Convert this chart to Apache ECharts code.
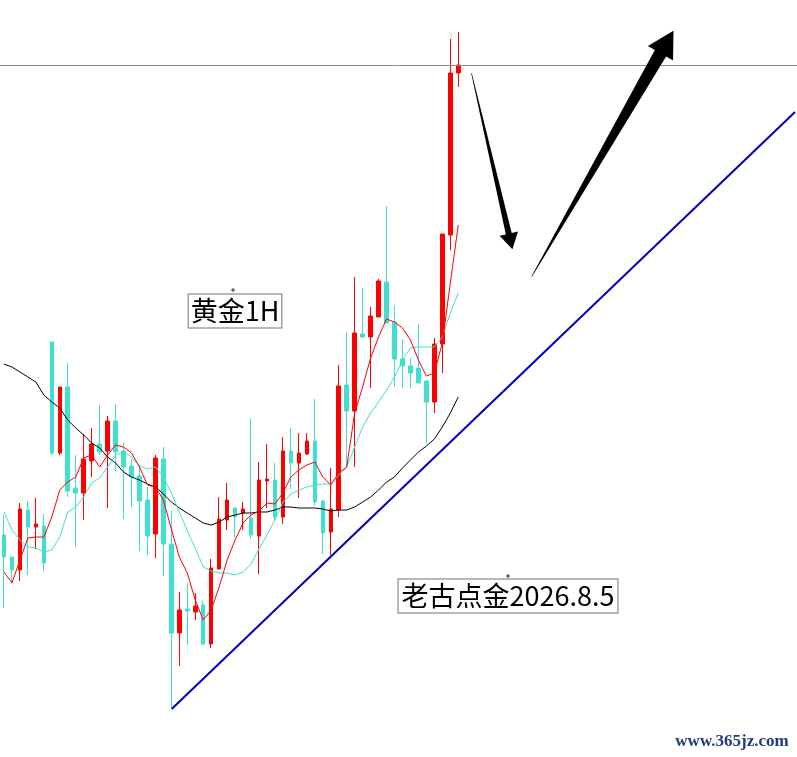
<!DOCTYPE html>
<html>
<head>
<meta charset="utf-8">
<script src="https://cdn.jsdelivr.net/npm/echarts@6/dist/echarts.min.js"></script>
<style>
html,body{margin:0;padding:0;background:#fff;}
#chart{width:797px;height:757px;}
</style>
</head>
<body>
<div id="chart"></div>
<script>
// ---- Data (chart units; no axis is shown in the reference) ----
// Each candle: [open, close, low, high]
const candles = [
  [222,200,149,242],[200,187,174,200],[187,248,176,254],[247,230,182,256],[230,233,208,259],
  [231,194,186,243],[415,304,302,415],[304,370,302,370],[370,266,260,394],[269,264,210,302],
  [264,298,237,323],[296,313,280,329],[313,305,302,352],[306,336,249,341],[336,305,286,353],
  [306,290,238,314],[291,280,250,298],[281,256,206,292],[257,221,202,270],[223,299,199,302],
  [298,213,181,310],[213,124,49,246],[124,147,91,165],[148,146,112,174],[145,151,137,164],
  [152,113,112,156],[113,189,109,198],[188,238,188,260],[237,257,227,274],[249,240,220,249],
  [244,248,227,255],[239,222,218,338],[221,277,183,295],[276,278,249,313],[277,240,236,294],
  [240,306,233,320],[306,294,268,329],[294,304,259,324],[303,316,302,324],[316,255,251,358],
  [256,224,203,257],[225,248,202,289],[247,371,240,392],[372,346,290,425],[346,424,290,480],
  [423,420,419,469],[420,441,369,450],[440,476,440,478],[475,434,434,551],[435,398,370,452],
  [398,391,369,418],[391,384,369,399],[389,374,374,433],[376,355,314,376],[355,413,344,419],
  [413,523,384,523],[522,684,507,718],[684,692,670,725]
];
// Moving-average lines
const maRed = [185,174,197,219,220,220,240,267,275,280,299,302,290,302,312,310,304,290,272,270,257,228,
  200,184,157,137,147,170,197,217,234,242,246,254,253,264,280,287,292,295,280,272,
  284,290,344,370,399,420,438,435,429,417,397,381,384,414,474,532];
const maCyan = [245,227,217,210,209,205,207,220,245,250,260,274,279,290,302,305,300,291,288,290,280,
  264,245,226,209,190,186,184,184,182,185,193,208,222,237,255,263,267,270,272,273,273,
  282,290,310,330,344,355,367,380,397,409,410,410,410,420,444,464];
const maBlack = [393,390,385,380,375,362,355,349,337,329,322,314,309,300,294,285,280,277,273,270,263,
  255,249,244,239,234,232,235,240,242,244,244,245,245,247,250,250,249,249,249,248,246,
  247,247,250,255,260,267,275,280,289,297,305,311,318,330,344,360];
// Current price level (horizontal line)
const priceLevel = 692;
// Support trend line: [barIndex, value]
const trendLine = [[21.04, 48], [99.25, 645]];
// Hand-drawn arrows: [tailBar, tailValue, tipBar, tipValue]
const arrows = [[58.66, 683.7, 63.79, 507.7], [66.21, 480.3, 84.0, 726.3]];
// Slots on the x axis (candles occupy the first ones, the rest is empty space on the right)
const slotCount = 100;
const categories = Array.from({length: slotCount}, (_, i) => String(i + 1));
// Texts
const title1 = '黄金1H';
const title2 = '老古点金2026.8.5';
const watermark = 'www.365jz.com';

// ---- Styles ----
const arrowStyle = [
  {headLen: 16, headHalf: 9.5, shaftHalf: 3},
  {headLen: 26, headHalf: 14.5, shaftHalf: 6.5}
];

const chart = echarts.init(document.getElementById('chart'), null, {renderer: 'canvas'});

function renderArrow(params, api) {
  const t = api.coord([api.value(0), api.value(1)]);
  const h = api.coord([api.value(2), api.value(3)]);
  const s = arrowStyle[params.dataIndex];
  const dx = h[0] - t[0], dy = h[1] - t[1];
  const L = Math.sqrt(dx * dx + dy * dy);
  const ux = dx / L, uy = dy / L;
  const nx = -uy, ny = ux;
  const bx = h[0] - ux * s.headLen, by = h[1] - uy * s.headLen;
  const pts = [
    [t[0] + nx * 0.3, t[1] + ny * 0.3],
    [bx + nx * s.shaftHalf, by + ny * s.shaftHalf],
    [bx + nx * s.headHalf, by + ny * s.headHalf],
    [h[0], h[1]],
    [bx - nx * s.headHalf, by - ny * s.headHalf],
    [bx - nx * s.shaftHalf, by - ny * s.shaftHalf],
    [t[0] - nx * 0.3, t[1] - ny * 0.3]
  ];
  return {type: 'polygon', shape: {points: pts}, style: {fill: '#000'}};
}

const boxStyle = {
  fill: '#000',
  backgroundColor: '#fff',
  borderColor: '#7d7163',
  borderWidth: 1,
  align: 'center',
  verticalAlign: 'middle'
};

chart.setOption({
  animation: false,
  backgroundColor: '#fff',
  grid: {left: -1, top: 0, width: 800, height: 757, containLabel: false},
  xAxis: [
    {type: 'category', data: categories, boundaryGap: true, show: false},
    {type: 'value', min: -0.5, max: slotCount - 0.5, show: false}
  ],
  yAxis: {type: 'value', min: 0, max: 757, show: false, splitLine: {show: false}},
  series: [
    {
      type: 'candlestick',
      xAxisIndex: 0,
      data: candles,
      barWidth: 4,
      itemStyle: {
        color: '#ff0000', color0: '#40e0d0',
        borderColor: '#ff0000', borderColor0: '#40e0d0',
        borderWidth: 1
      },
      markLine: {
        silent: true,
        symbol: ['none', 'none'],
        label: {show: false},
        lineStyle: {color: '#8a8a8a', width: 1, type: 'solid'},
        data: [{yAxis: priceLevel}]
      },
      z: 2
    },
    {type: 'line', xAxisIndex: 0, data: maBlack, symbol: 'none', lineStyle: {color: '#000', width: 1}, z: 3},
    {type: 'line', xAxisIndex: 0, data: maCyan, symbol: 'none', lineStyle: {color: '#40e0d0', width: 1}, z: 3},
    {type: 'line', xAxisIndex: 0, data: maRed, symbol: 'none', lineStyle: {color: '#ff0000', width: 1}, z: 3},
    {type: 'line', xAxisIndex: 1, data: trendLine, symbol: 'none', lineStyle: {color: '#0000c0', width: 2}, z: 4},
    {type: 'custom', xAxisIndex: 1, data: arrows, renderItem: renderArrow, z: 5}
  ],
  graphic: [
    {type: 'text', x: 235, y: 311, z: 10,
      style: Object.assign({text: title1, font: '27px "Noto Sans CJK SC"', padding: [3, 2, 3, 2]}, boxStyle)},
    {type: 'text', x: 508, y: 596, z: 10,
      style: Object.assign({text: title2, font: '27px "Noto Sans CJK SC"', padding: [3, 3, 3, 3]}, boxStyle)},
    {type: 'rect', x: 232, y: 289, z: 10, shape: {width: 2, height: 2}, style: {fill: 'none', stroke: '#333', lineWidth: 1}},
    {type: 'rect', x: 507, y: 575, z: 10, shape: {width: 2, height: 2}, style: {fill: 'none', stroke: '#333', lineWidth: 1}},
    {type: 'text', x: 732, y: 742, z: 10,
      style: {text: watermark, font: 'bold 17px "Liberation Serif"', fill: '#1f3d80', align: 'center', verticalAlign: 'middle'}}
  ]
});
</script>
</body>
</html>
